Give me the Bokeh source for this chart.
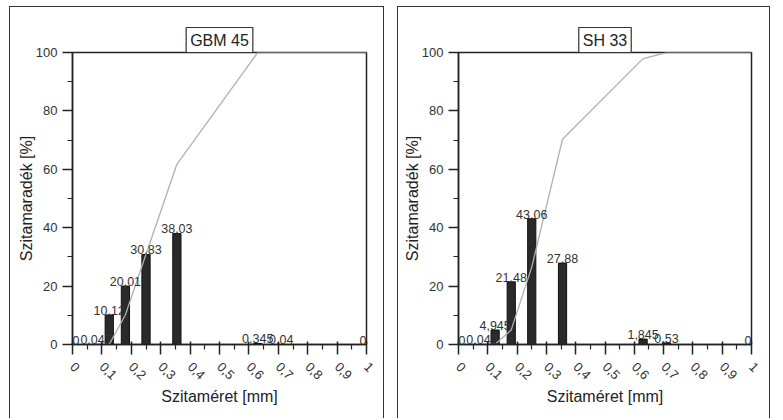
import math
from bokeh.plotting import figure
from bokeh.models import (ColumnDataSource, Range1d, FixedTicker, Label, Title, Spacer)
from bokeh.layouts import row, column
from bokeh.embed import file_html
from bokeh.resources import INLINE

# ---- data ----
sizes = [0, 0.08, 0.125, 0.18, 0.25, 0.355, 0.63, 0.71, 1.0]

gbm_vals = [0, 0.047, 10.12, 20.01, 30.83, 38.03, 0.345, 0.04, 0]
gbm_labels = ["0", "0,047", "10,12", "20,01", "30,83", "38,03", "0,345", "0,04", "0"]
gbm_cum = [0, 0, 0.05, 10.2, 30.9, 61.7, 100, 100, 100]

sh_vals = [0, 0.042, 4.945, 21.48, 43.06, 27.88, 1.845, 0.53, 0]
sh_labels = ["0", "0,042", "4,945", "21,48", "43,06", "27,88", "1,845", "0,53", "0"]
sh_cum = [0, 0, 0.05, 5.0, 26.5, 70.3, 97.9, 100, 100]

x_ticks = [0, 0.1, 0.2, 0.3, 0.4, 0.5, 0.6, 0.7, 0.8, 0.9, 1.0]
x_tick_labels = ["0", "0,1", "0,2", "0,3", "0,4", "0,5", "0,6", "0,7", "0,8", "0,9", "1"]
x_minor = [0.05, 0.15, 0.25, 0.35, 0.45, 0.55, 0.65, 0.75, 0.85, 0.95]
y_ticks = [0, 20, 40, 60, 80, 100]
y_minor = [10, 30, 50, 70, 90]

FONT = "Liberation Sans"
DARK = "#222222"


def make_panel(title, vals, labels, cum, width, left, right, top, bottom):
    p = figure(width=width, height=412, output_backend="svg", toolbar_location=None,
               x_range=Range1d(0, 1), y_range=Range1d(0, 100),
               min_border_left=left, min_border_right=right,
               min_border_top=top, min_border_bottom=bottom,
               background_fill_color="white", border_fill_color="white")
    p.grid.visible = False
    p.outline_line_color = DARK
    p.outline_line_width = 1.5
    p.outline_line_alpha = 1.0

    t = Title(text=title, align="center", text_font=FONT, text_font_size="16px",
              text_font_style="normal", text_color=DARK, standoff=0,
              border_line_color="#333333", border_line_width=1.2,
              background_fill_color="white", padding=4)
    p.add_layout(t, "above")

    src = ColumnDataSource(dict(x=sizes, top=vals))
    p.vbar(x="x", top="top", width=0.028, source=src,
           fill_color="#2a2a2a", line_color="#111111", line_width=1)
    p.line(sizes, cum, line_color="#b0b0b0", line_width=1.3)

    xmin, xmax = min(sizes), max(sizes)
    for xv, yv, s in zip(sizes, vals, labels):
        # keep the end labels inside the (clipped) plot frame
        align = "left" if xv == xmin else ("right" if xv == xmax else "center")
        p.add_layout(Label(x=xv, y=yv, text=s, text_align=align,
                           text_baseline="bottom", text_font=FONT,
                           text_font_size="12.5px", text_color="#333333"))

    xa = p.xaxis[0]
    xa.ticker = FixedTicker(ticks=x_ticks, minor_ticks=x_minor)
    xa.major_label_overrides = {v: s for v, s in zip(x_ticks, x_tick_labels)}
    xa.major_label_orientation = -math.pi / 4
    xa.axis_label = "Szitaméret [mm]"

    ya = p.yaxis[0]
    ya.ticker = FixedTicker(ticks=y_ticks, minor_ticks=y_minor)
    ya.axis_label = "Szitamaradék [%]"

    for ax in (xa, ya):
        ax.axis_line_color = DARK
        ax.axis_line_width = 1.5
        ax.major_tick_line_color = DARK
        ax.major_tick_line_width = 1.5
        ax.minor_tick_line_color = DARK
        ax.minor_tick_line_width = 1.2
        ax.major_tick_out = 10
        ax.major_tick_in = 0
        ax.minor_tick_out = 5
        ax.minor_tick_in = 0
        ax.major_label_text_font = FONT
        ax.major_label_text_font_size = "13px"
        ax.major_label_text_color = "#333333"
        ax.axis_label_text_font = FONT
        ax.axis_label_text_font_size = "16px"
        ax.axis_label_text_font_style = "normal"
        ax.axis_label_text_color = DARK
    xa.major_tick_in = 3
    xa.major_label_standoff = 10
    xa.axis_label_standoff = 1
    ya.major_label_standoff = 5
    ya.axis_label_standoff = -2

    p.styles = {"border-left": "1.5px solid #333", "border-top": "1.5px solid #333",
                "border-right": "1.5px solid #333"}
    return p


p1 = make_panel("GBM 45", gbm_vals, gbm_labels, gbm_cum, 375, 62, 19, 45, 74)
p2 = make_panel("SH 33", sh_vals, sh_labels, sh_cum, 373, 60, 20, 44, 75)

layout = column(Spacer(width=10, height=6),
                row(Spacer(width=9, height=10), p1, Spacer(width=13, height=10), p2))

open("out.html", "w").write(file_html(layout, INLINE))
